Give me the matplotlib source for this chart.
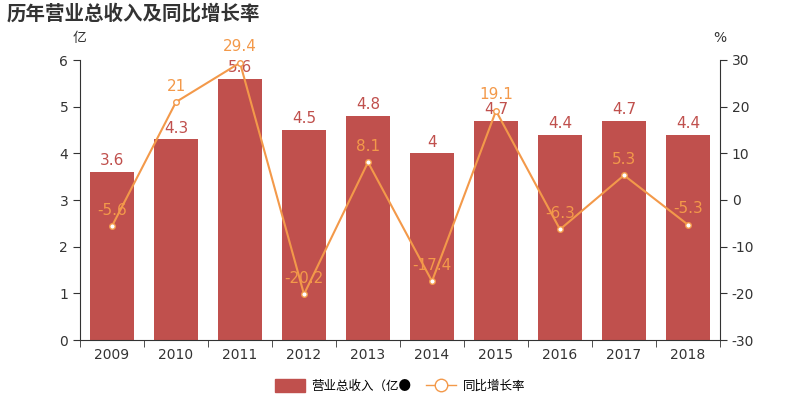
import matplotlib
matplotlib.use("Agg")
import matplotlib.pyplot as plt
from matplotlib.lines import Line2D
from matplotlib.patches import Patch
import numpy as np

plt.rcParams['font.family'] = ['DejaVu Sans', 'Noto Sans CJK SC']
plt.rcParams['axes.unicode_minus'] = False

years = ['2009', '2010', '2011', '2012', '2013', '2014', '2015', '2016', '2017', '2018']
revenue = [3.6, 4.3, 5.6, 4.5, 4.8, 4.0, 4.7, 4.4, 4.7, 4.4]
revenue_labels = ['3.6', '4.3', '5.6', '4.5', '4.8', '4', '4.7', '4.4', '4.7', '4.4']
growth = [-5.6, 21.0, 29.4, -20.2, 8.1, -17.4, 19.1, -6.3, 5.3, -5.3]
growth_labels = ['-5.6', '21', '29.4', '-20.2', '8.1', '-17.4', '19.1', '-6.3', '5.3', '-5.3']

bar_color = '#c0504d'
line_color = '#f3994a'
text_color = '#333333'

fig = plt.figure(figsize=(8, 4), dpi=100)
ax = fig.add_axes([0.1, 0.15, 0.8, 0.7])
x = np.arange(len(years))
ax.bar(x, revenue, width=0.7, color=bar_color, zorder=2)
ax.set_xlim(-0.5, len(years) - 0.5)
ax.set_ylim(0, 6)
ax.set_yticks(range(0, 7))
ax.set_xticks(x)
ax.set_xticklabels(years)
ax.set_xticks(np.arange(-0.5, len(years), 1), minor=True)
ax.tick_params(axis='x', which='major', length=0, pad=6)
ax.tick_params(axis='x', which='minor', length=5, color=text_color)
ax.tick_params(axis='y', length=5, color=text_color)
ax.tick_params(labelsize=10, labelcolor=text_color)
for s in ['top', 'right']:
    ax.spines[s].set_visible(False)
for s in ['left', 'bottom']:
    ax.spines[s].set_color(text_color)
for xi, v, lab in zip(x, revenue, revenue_labels):
    ax.text(xi, v + 0.08, lab, ha='center', va='bottom', color=bar_color, fontsize=11, zorder=5)

ax2 = ax.twinx()
ax2.set_ylim(-30, 30)
ax2.set_yticks(range(-30, 31, 10))
ax2.plot(x, growth, color=line_color, lw=1.5, marker='o', markersize=4,
         markerfacecolor='white', markeredgecolor=line_color, zorder=3)
for s in ['top', 'left', 'bottom']:
    ax2.spines[s].set_visible(False)
ax2.spines['right'].set_color(text_color)
ax2.tick_params(axis='y', length=5, color=text_color, labelsize=10, labelcolor=text_color)
for xi, v, lab in zip(x, growth, growth_labels):
    ax2.text(xi, v + 1.8, lab, ha='center', va='bottom', color=line_color, fontsize=11, zorder=5)

fig.text(0.008, 0.965, '历年营业总收入及同比增长率', fontsize=14, fontweight='bold', color=text_color,
         va='center', family=['Noto Sans CJK SC', 'DejaVu Sans'])
fig.text(0.099, 0.905, '亿', fontsize=10, color=text_color, ha='center', va='center',
         family=['Noto Sans CJK SC', 'DejaVu Sans'])
fig.text(0.9, 0.905, '%', fontsize=10, color=text_color, ha='center', va='center')

handles = [Patch(facecolor=bar_color, edgecolor=bar_color),
           Line2D([0], [0], color=line_color, lw=1, marker='o', markersize=9,
                  markerfacecolor='white', markeredgecolor=line_color)]
labels = ['营业总收入（亿●', '同比增长率']
fig.legend(handles, labels, loc='center', bbox_to_anchor=(0.5, 0.035), ncol=2, frameon=False,
           prop={'family': ['Noto Sans CJK SC', 'DejaVu Sans'], 'size': 9},
           handlelength=2.4, handleheight=1.2, columnspacing=1.2, handletextpad=0.5)

fig.savefig('out.png', dpi=100)
